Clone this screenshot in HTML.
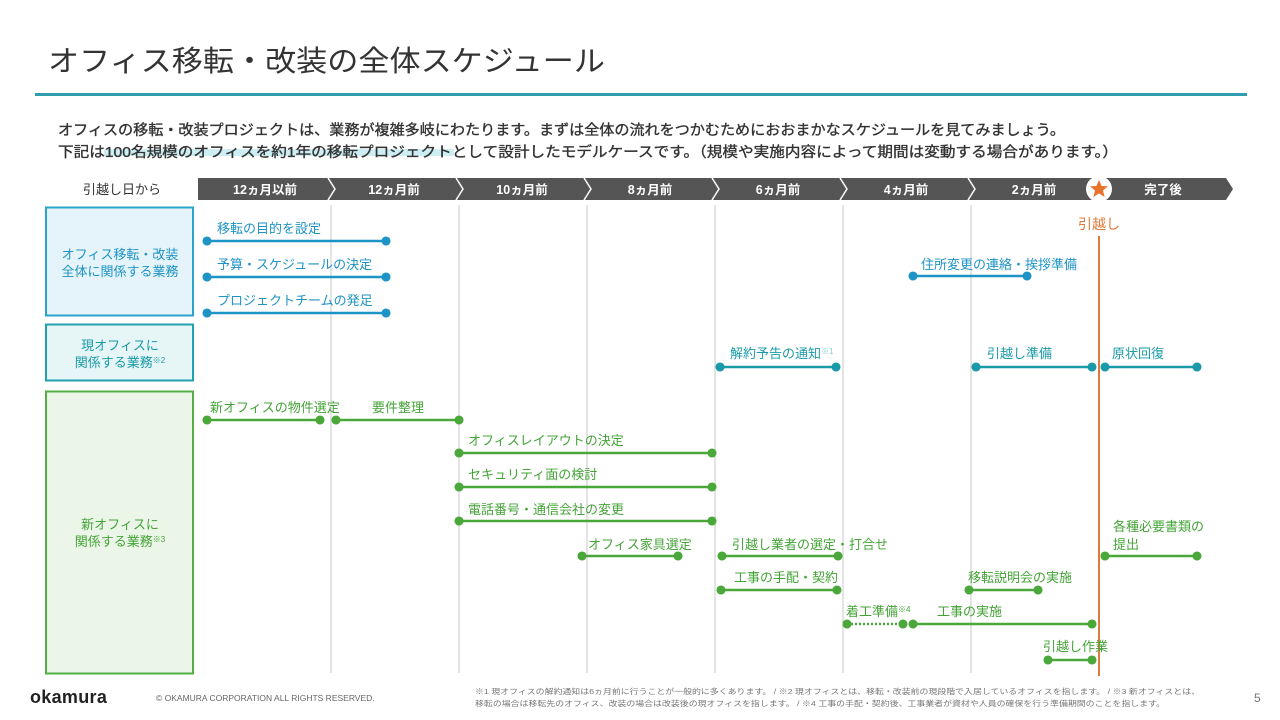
<!DOCTYPE html>
<html><head><meta charset="utf-8"><style>
html,body{margin:0;padding:0;background:#fff;}
svg{display:block;font-family:"Liberation Sans","Noto Sans CJK JP",sans-serif;}
</style></head><body>
<svg width="1280" height="720" viewBox="0 0 1280 720" xmlns="http://www.w3.org/2000/svg">
<text x="48" y="71" font-size="29" fill="#333" textLength="557" lengthAdjust="spacingAndGlyphs">オフィス移転・改装の全体スケジュール</text>
<rect x="35" y="93" width="1212" height="3" fill="#2f9eae"/>
<rect x="104" y="149" width="350" height="7" fill="#cdeef2"/>
<text x="58" y="135" font-size="14.5" fill="#333" stroke="#333" stroke-width="0.35" textLength="1007" lengthAdjust="spacingAndGlyphs">オフィスの移転・改装プロジェクトは、業務が複雑多岐にわたります。まずは全体の流れをつかむためにおおまかなスケジュールを見てみましょう。</text>
<text x="58" y="157" font-size="14.5" fill="#333" stroke="#333" stroke-width="0.35" textLength="1060" lengthAdjust="spacingAndGlyphs">下記は100名規模のオフィスを約1年の移転プロジェクトとして設計したモデルケースです。（規模や実施内容によって期間は変動する場合があります。）</text>

<text x="122" y="194" font-size="13" fill="#333" text-anchor="middle">引越し日から</text>
<polygon points="198,178 1226,178 1233,189 1226,200 198,200" fill="#555"/>
<g stroke="#fff" stroke-width="1.5" fill="none">
<polyline points="328,178 335,189 328,200"/><polyline points="456,178 463,189 456,200"/>
<polyline points="584,178 591,189 584,200"/><polyline points="712,178 719,189 712,200"/>
<polyline points="840,178 847,189 840,200"/><polyline points="968,178 975,189 968,200"/>
</g>
<g font-size="12.5" font-weight="bold" fill="#fff" text-anchor="middle">
<text x="265" y="194">12ヵ月以前</text><text x="394" y="194">12ヵ月前</text><text x="522" y="194">10ヵ月前</text>
<text x="650" y="194">8ヵ月前</text><text x="778" y="194">6ヵ月前</text><text x="906" y="194">4ヵ月前</text>
<text x="1034" y="194">2ヵ月前</text><text x="1163" y="194">完了後</text>
</g>
<circle cx="1099" cy="189" r="13" fill="#fff"/>
<polygon points="1099,180 1101.6,186 1108,186.3 1103,190.5 1104.6,197 1099,193.4 1093.4,197 1095,190.5 1090,186.3 1096.4,186" fill="#e8732c"/>

<g stroke="#c8c8c8" stroke-width="1">
<line x1="331" y1="205" x2="331" y2="673"/><line x1="459" y1="205" x2="459" y2="673"/>
<line x1="587" y1="205" x2="587" y2="673"/><line x1="715" y1="205" x2="715" y2="673"/>
<line x1="843" y1="205" x2="843" y2="673"/><line x1="971" y1="205" x2="971" y2="673"/>
</g>
<line x1="1099" y1="236" x2="1099" y2="676" stroke="#e07a3c" stroke-width="2"/>
<text x="1099" y="229" font-size="14" fill="#e07a3c" text-anchor="middle">引越し</text>

<rect x="46" y="207.5" width="147" height="108" fill="#e4f4fa" stroke="#2aa4cc" stroke-width="2"/>
<rect x="46" y="324.5" width="147" height="56" fill="#e6f5f6" stroke="#21a0ad" stroke-width="2"/>
<rect x="46" y="391.5" width="147" height="282" fill="#ebf6e8" stroke="#55af46" stroke-width="2"/>
<g font-size="13" text-anchor="middle">
<text x="120" y="259" fill="#1e93c5">オフィス移転・改装</text><text x="120" y="276" fill="#1e93c5">全体に関係する業務</text>
<text x="120" y="350" fill="#1a9aa8">現オフィスに</text><text x="120" y="367" fill="#1a9aa8">関係する業務<tspan font-size="8" dy="-4">※2</tspan></text>
<text x="120" y="529" fill="#44a337">新オフィスに</text><text x="120" y="546" fill="#44a337">関係する業務<tspan font-size="8" dy="-4">※3</tspan></text>
</g>

<g stroke="#1e93c5" stroke-width="2.5" fill="#1e93c5">
<line x1="207" y1="241" x2="386" y2="241"/><circle cx="207" cy="241" r="3.3"/><circle cx="386" cy="241" r="3.3"/>
<line x1="207" y1="277" x2="386" y2="277"/><circle cx="207" cy="277" r="3.3"/><circle cx="386" cy="277" r="3.3"/>
<line x1="207" y1="313" x2="386" y2="313"/><circle cx="207" cy="313" r="3.3"/><circle cx="386" cy="313" r="3.3"/>
<line x1="913" y1="276" x2="1027" y2="276"/><circle cx="913" cy="276" r="3.3"/><circle cx="1027" cy="276" r="3.3"/>
</g>
<g font-size="13" fill="#1e93c5">
<text x="217" y="233">移転の目的を設定</text><text x="217" y="269">予算・スケジュールの決定</text>
<text x="217" y="305">プロジェクトチームの発足</text><text x="921" y="269">住所変更の連絡・挨拶準備</text>
</g>

<g stroke="#1a9aa8" stroke-width="2.5" fill="#1a9aa8">
<line x1="720" y1="367" x2="836" y2="367"/><circle cx="720" cy="367" r="3.3"/><circle cx="836" cy="367" r="3.3"/>
<line x1="976" y1="367" x2="1092" y2="367"/><circle cx="976" cy="367" r="3.3"/><circle cx="1092" cy="367" r="3.3"/>
<line x1="1105" y1="367" x2="1197" y2="367"/><circle cx="1105" cy="367" r="3.3"/><circle cx="1197" cy="367" r="3.3"/>
</g>
<g font-size="13" fill="#1a9aa8">
<text x="730" y="358">解約予告の通知<tspan font-size="8" dy="-4" fill="#8cc">※1</tspan></text>
<text x="987" y="358">引越し準備</text><text x="1112" y="358">原状回復</text>
</g>

<g stroke="#4aa83a" stroke-width="2.5" fill="#4aa83a">
<line x1="207" y1="420" x2="320" y2="420"/><circle cx="207" cy="420" r="3.3"/><circle cx="320" cy="420" r="3.3"/>
<line x1="336" y1="420" x2="459" y2="420"/><circle cx="336" cy="420" r="3.3"/><circle cx="459" cy="420" r="3.3"/>
<line x1="459" y1="453" x2="712" y2="453"/><circle cx="459" cy="453" r="3.3"/><circle cx="712" cy="453" r="3.3"/>
<line x1="459" y1="487" x2="712" y2="487"/><circle cx="459" cy="487" r="3.3"/><circle cx="712" cy="487" r="3.3"/>
<line x1="459" y1="521" x2="712" y2="521"/><circle cx="459" cy="521" r="3.3"/><circle cx="712" cy="521" r="3.3"/>
<line x1="582" y1="556" x2="678" y2="556"/><circle cx="582" cy="556" r="3.3"/><circle cx="678" cy="556" r="3.3"/>
<line x1="722" y1="556" x2="838" y2="556"/><circle cx="722" cy="556" r="3.3"/><circle cx="838" cy="556" r="3.3"/>
<line x1="1105" y1="556" x2="1197" y2="556"/><circle cx="1105" cy="556" r="3.3"/><circle cx="1197" cy="556" r="3.3"/>
<line x1="721" y1="590" x2="837" y2="590"/><circle cx="721" cy="590" r="3.3"/><circle cx="837" cy="590" r="3.3"/>
<line x1="969" y1="590" x2="1038" y2="590"/><circle cx="969" cy="590" r="3.3"/><circle cx="1038" cy="590" r="3.3"/>
<line x1="847" y1="624" x2="903" y2="624" stroke-dasharray="2 2"/><circle cx="847" cy="624" r="3.3"/><circle cx="903" cy="624" r="3.3"/>
<line x1="913" y1="624" x2="1092" y2="624"/><circle cx="913" cy="624" r="3.3"/><circle cx="1092" cy="624" r="3.3"/>
<line x1="1048" y1="660" x2="1092" y2="660"/><circle cx="1048" cy="660" r="3.3"/><circle cx="1092" cy="660" r="3.3"/>
</g>
<g font-size="13" fill="#44a337">
<text x="210" y="412">新オフィスの物件選定</text><text x="372" y="412">要件整理</text>
<text x="468" y="445">オフィスレイアウトの決定</text><text x="468" y="479">セキュリティ面の検討</text>
<text x="468" y="514">電話番号・通信会社の変更</text><text x="588" y="549">オフィス家具選定</text>
<text x="732" y="549">引越し業者の選定・打合せ</text>
<text x="1113" y="531">各種必要書類の</text><text x="1113" y="549">提出</text>
<text x="734" y="582">工事の手配・契約</text><text x="968" y="582">移転説明会の実施</text>
<text x="846" y="616">着工準備<tspan font-size="8" dy="-4">※4</tspan></text><text x="937" y="616">工事の実施</text>
<text x="1043" y="651">引越し作業</text>
</g>

<text x="30" y="703" font-size="18" font-weight="bold" fill="#222" letter-spacing="0.3">okamura</text>
<text x="156" y="701" font-size="8.5" fill="#666">© OKAMURA CORPORATION ALL RIGHTS RESERVED.</text>
<text x="475" y="694" font-size="7.5" fill="#777" textLength="725" lengthAdjust="spacingAndGlyphs">※1 現オフィスの解約通知は6ヵ月前に行うことが一般的に多くあります。 / ※2 現オフィスとは、移転・改装前の現段階で入居しているオフィスを指します。 / ※3 新オフィスとは、</text>
<text x="475" y="706" font-size="7.5" fill="#777" textLength="690" lengthAdjust="spacingAndGlyphs">移転の場合は移転先のオフィス、改装の場合は改装後の現オフィスを指します。 / ※4 工事の手配・契約後、工事業者が資材や人員の確保を行う準備期間のことを指します。</text>
<text x="1254" y="702" font-size="12" fill="#777">5</text>
</svg>
</body></html>
